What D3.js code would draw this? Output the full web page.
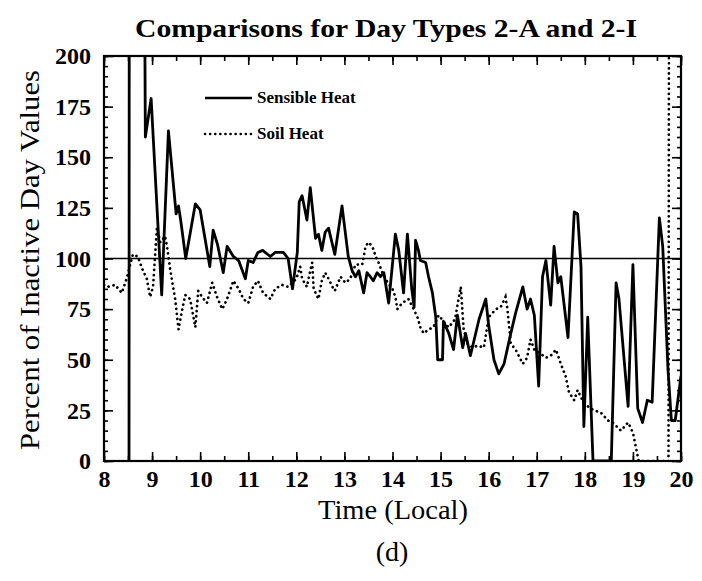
<!DOCTYPE html>
<html><head><meta charset="utf-8">
<script src="https://cdn.jsdelivr.net/npm/d3@7"></script>
<style>body{margin:0;background:#fff}svg{display:block}</style>
</head><body>
<svg id="c" width="702" height="581"></svg>
<script>
const title = "Comparisons for Day Types 2-A and 2-I";
const xLabel = "Time (Local)";
const yLabel = "Percent of Inactive Day Values";
const caption = "(d)";
const seriesNames = ["Sensible Heat", "Soil Heat"];
const xTicks = [8,9,10,11,12,13,14,15,16,17,18,19,20];
const yTicks = [0,25,50,75,100,125,150,175,200];
const refValue = 100;

const sensTime = [8.52,8.53,8.80,8.86,8.98,9.2,9.34,9.5,9.55,9.6,9.7,9.9,10.0,10.1,10.2,10.27,10.36,10.48,10.56,10.69,10.8,10.94,11.0,11.1,11.2,11.3,11.46,11.56,11.73,11.83,11.92,12.02,12.06,12.12,12.22,12.29,12.4,12.46,12.53,12.6,12.67,12.8,12.95,13.08,13.16,13.23,13.3,13.4,13.47,13.54,13.6,13.68,13.75,13.82,13.92,14.06,14.13,14.23,14.31,14.4,14.45,14.48,14.54,14.58,14.69,14.75,14.83,14.9,14.94,15.04,15.06,15.17,15.27,15.35,15.46,15.52,15.62,15.7,15.8,15.94,16.0,16.11,16.21,16.32,16.46,16.56,16.71,16.8,16.87,16.95,17.04,17.12,17.19,17.29,17.36,17.44,17.5,17.65,17.78,17.85,17.92,17.98,18.06,18.17,18.55,18.65,18.71,18.9,19.0,19.1,19.2,19.3,19.4,19.55,19.62,19.73,19.8,19.88,20.0];
const sensVal = [-5,450,450,160,179,82,163,122,126,118,100,127,124,110,96,114,107,93,106,101,99,90,99,98,103,104,101,103,103,100,85,103,128,131,119,135,110,112,104,113,115,102,126,101,94,91,94,83,93,91,89,93,91,93,78,112,104,83,112,85,76,109,104,99,98,91,83,71,50,50,69,63,55,72,56,63,52,60,70,80,67,50,43,48,63,73,86,75,80,72,37,91,99,77,106,88,91,61,123,122,96,17,71,0,0,88,80,27,97,26,19,30,29,120,106,45,20,20,42];

const soilTime = [8.0,8.08,8.23,8.37,8.47,8.6,8.7,8.81,8.89,8.96,9.02,9.1,9.17,9.27,9.31,9.38,9.48,9.55,9.62,9.69,9.79,9.9,9.96,10.04,10.14,10.25,10.35,10.46,10.56,10.69,10.8,10.9,11.0,11.1,11.2,11.31,11.46,11.56,11.7,11.83,12.0,12.08,12.12,12.22,12.29,12.33,12.36,12.46,12.53,12.6,12.67,12.75,12.8,12.92,13.02,13.12,13.23,13.37,13.44,13.5,13.58,13.65,13.71,13.79,13.9,14.0,14.06,14.1,14.2,14.33,14.44,14.52,14.58,14.65,14.75,14.85,14.96,15.06,15.17,15.3,15.42,15.48,15.56,15.67,15.77,15.9,16.0,16.15,16.25,16.35,16.39,16.46,16.56,16.71,16.8,16.87,16.95,17.08,17.19,17.29,17.4,17.5,17.6,17.67,17.78,17.85,17.95,18.06,18.19,18.33,18.48,18.58,18.75,18.9,19.0,19.06,19.12,19.74,19.76,20.0];
const soilVal = [87,86,87,83,90,102,101,94,90,81,86,115,108,111,106,94,80,65,74,82,80,66,84,81,78,88,81,75,80,89,85,80,78,86,89,83,80,85,87,86,90,96,90,86,94,98,85,80,89,93,90,86,84,91,88,90,97,97,106,108,106,101,98,93,88,85,81,75,78,80,75,71,66,63,65,66,72,69,66,70,86,65,58,56,57,56,71,75,76,81,75,58,55,48,51,60,55,53,51,52,55,48,42,34,30,35,30,27,25,24,20,19,15,19,14,7,0,0,450,450];

const svg = d3.select("#c");
const serif = "'Liberation Serif', 'DejaVu Serif', serif";
const x = d3.scaleLinear().domain([8,20]).range([104,681]);
const y = d3.scaleLinear().domain([0,200]).range([461,56]);

svg.append("defs").append("clipPath").attr("id","clip")
  .append("rect").attr("x",x(8)).attr("y",y(200)).attr("width",x(20)-x(8)).attr("height",y(0)-y(200));

// title
svg.append("text").attr("x",386).attr("y",37).attr("text-anchor","middle")
  .attr("font-family",serif).attr("font-weight","bold").attr("font-size",26)
  .attr("textLength",502).attr("lengthAdjust","spacingAndGlyphs").text(title);

// reference line
svg.append("line").attr("x1",x(8)).attr("x2",x(20)).attr("y1",y(refValue)).attr("y2",y(refValue))
  .attr("stroke","#000").attr("stroke-width",1.5);

const g = svg.append("g").attr("clip-path","url(#clip)");
const line = d3.line().x(d=>x(d[0])).y(d=>y(d[1]));
const sens = sensTime.map((t,i)=>[t,sensVal[i]]);
const soil = soilTime.map((t,i)=>[t,soilVal[i]]);
g.append("path").datum(soil).attr("d",line).attr("fill","none").attr("stroke","#000")
  .attr("stroke-width",2.7).attr("stroke-linecap","round").attr("stroke-dasharray","0.1 5");
g.append("path").datum(sens).attr("d",line).attr("fill","none").attr("stroke","#000")
  .attr("stroke-width",2.8).attr("stroke-linejoin","round");

// axes (inward ticks)
const minorX = d3.range(8,20.01,0.5);
const minorY = d3.range(0,200.01,5);
function styleAxis(sel){ sel.select(".domain").remove(); sel.selectAll("line").attr("stroke","#000").attr("stroke-width",1.6); }
svg.append("g").attr("transform",`translate(0,${y(0)})`).call(d3.axisBottom(x).tickValues(minorX).tickSize(-5).tickFormat("")).call(styleAxis);
svg.append("g").attr("transform",`translate(0,${y(200)})`).call(d3.axisTop(x).tickValues(minorX).tickSize(-5).tickFormat("")).call(styleAxis);
svg.append("g").attr("transform",`translate(${x(8)},0)`).call(d3.axisLeft(y).tickValues(minorY).tickSize(-4).tickFormat("")).call(styleAxis);
svg.append("g").attr("transform",`translate(${x(20)},0)`).call(d3.axisRight(y).tickValues(minorY).tickSize(-4).tickFormat("")).call(styleAxis);

const xb = svg.append("g").attr("transform",`translate(0,${y(0)})`)
  .call(d3.axisBottom(x).tickValues(xTicks).tickSize(-9).tickPadding(9).tickFormat(d3.format("d")));
styleAxis(xb);
xb.selectAll("text").attr("font-family",serif).attr("font-weight","bold").attr("font-size",24).attr("fill","#000");
const yl = svg.append("g").attr("transform",`translate(${x(8)},0)`)
  .call(d3.axisLeft(y).tickValues(yTicks).tickSize(-9).tickPadding(13).tickFormat(d3.format("d")));
styleAxis(yl);
yl.selectAll("text").attr("font-family",serif).attr("font-weight","bold").attr("font-size",24).attr("fill","#000").attr("dy","0.32em");
svg.append("g").attr("transform",`translate(${x(20)},0)`)
  .call(d3.axisRight(y).tickValues(yTicks).tickSize(-9).tickFormat("")).call(styleAxis);
svg.append("g").attr("transform",`translate(0,${y(200)})`)
  .call(d3.axisTop(x).tickValues(xTicks).tickSize(-9).tickFormat("")).call(styleAxis);

// frame
svg.append("rect").attr("x",x(8)).attr("y",y(200)).attr("width",x(20)-x(8)).attr("height",y(0)-y(200))
  .attr("fill","none").attr("stroke","#000").attr("stroke-width",2.2);

// labels
svg.append("text").attr("x",393).attr("y",519).attr("text-anchor","middle")
  .attr("font-family",serif).attr("font-size",27)
  .attr("textLength",150).attr("lengthAdjust","spacingAndGlyphs").text(xLabel);
svg.append("text").attr("transform","translate(39,260) rotate(-90)").attr("text-anchor","middle")
  .attr("font-family",serif).attr("font-size",27)
  .attr("textLength",380).attr("lengthAdjust","spacingAndGlyphs").text(yLabel);
svg.append("text").attr("x",392).attr("y",561).attr("text-anchor","middle")
  .attr("font-family",serif).attr("font-size",28).text(caption);

// legend
const lg = svg.append("g");
lg.append("line").attr("x1",205).attr("x2",252).attr("y1",98).attr("y2",98).attr("stroke","#000").attr("stroke-width",2.6);
lg.append("line").attr("x1",205).attr("x2",252).attr("y1",134).attr("y2",134).attr("stroke","#000")
  .attr("stroke-width",2.6).attr("stroke-linecap","round").attr("stroke-dasharray","0.1 5");
lg.append("text").attr("x",257).attr("y",103).attr("font-family",serif).attr("font-weight","bold").attr("font-size",17).text(seriesNames[0]);
lg.append("text").attr("x",257).attr("y",139).attr("font-family",serif).attr("font-weight","bold").attr("font-size",17).text(seriesNames[1]);
</script>
</body></html>
